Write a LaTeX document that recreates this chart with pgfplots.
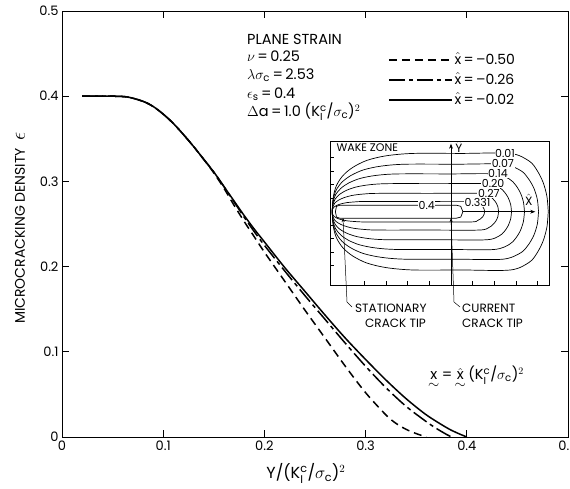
\documentclass[border=0pt]{standalone}
\usepackage{amsmath}
\usepackage{fontspec}
\setmainfont{Poppins}
\usepackage{pgfplots}
\usepackage{pgfplotstable}
\pgfplotsset{compat=1.18}
\usetikzlibrary{arrows.meta}

% main curves: microcracking density vs Y
\pgfplotstableread{
x y
0.020 0.400
0.050 0.400
0.065 0.399
0.080 0.394
0.090 0.388
0.100 0.379
0.110 0.368
0.120 0.355
0.130 0.341
0.140 0.326
0.150 0.310
0.160 0.292
0.170 0.272
0.180 0.253
0.190 0.235
0.200 0.217
0.220 0.183
0.240 0.149
0.260 0.116
0.280 0.083
0.300 0.052
0.320 0.026
0.330 0.016
0.340 0.009
0.350 0.004
0.360 0.000
}\xa
\pgfplotstableread{
x y
0.020 0.400
0.050 0.400
0.065 0.399
0.080 0.394
0.090 0.388
0.100 0.379
0.110 0.368
0.120 0.355
0.130 0.341
0.140 0.326
0.150 0.311
0.160 0.294
0.170 0.276
0.180 0.258
0.190 0.241
0.200 0.225
0.220 0.195
0.240 0.166
0.260 0.138
0.280 0.110
0.300 0.083
0.320 0.058
0.340 0.036
0.360 0.018
0.370 0.010
0.380 0.003
0.385 0.000
}\xb
\pgfplotstableread{
x y
0.020 0.400
0.050 0.400
0.065 0.399
0.080 0.394
0.090 0.388
0.100 0.379
0.110 0.368
0.120 0.355
0.130 0.341
0.140 0.326
0.150 0.311
0.160 0.294
0.170 0.277
0.180 0.260
0.190 0.244
0.200 0.229
0.220 0.199
0.240 0.171
0.260 0.143
0.280 0.116
0.300 0.091
0.320 0.067
0.340 0.045
0.360 0.026
0.380 0.011
0.390 0.005
0.400 0.000
}\xc

% inset contours, upper halves (mirrored below the crack line)
\pgfplotstableread{
x y
-1.100 0
-1.090 0.135
-1.060 0.243
-1.000 0.335
-0.910 0.410
-0.780 0.475
-0.600 0.518
-0.350 0.540
0.100 0.540
0.550 0.540
0.725 0.468
0.797 0.382
0.853 0.270
0.888 0.140
0.900 0
}\ca
\pgfplotstableread{
x y
-1.100 0
-1.091 0.110
-1.064 0.198
-1.010 0.273
-0.929 0.334
-0.812 0.387
-0.650 0.422
-0.425 0.440
0.050 0.440
0.480 0.440
0.645 0.381
0.713 0.311
0.766 0.220
0.799 0.114
0.810 0
}\cb
\pgfplotstableread{
x y
-1.100 0
-1.092 0.088
-1.068 0.158
-1.019 0.217
-0.947 0.266
-0.842 0.308
-0.697 0.336
-0.496 0.350
0.000 0.350
0.400 0.350
0.540 0.303
0.598 0.247
0.642 0.175
0.670 0.091
0.680 0
}\cc
\pgfplotstableread{
x y
-1.100 0
-1.093 0.065
-1.072 0.117
-1.031 0.161
-0.968 0.198
-0.878 0.229
-0.753 0.250
-0.580 0.260
-0.100 0.260
0.330 0.260
0.445 0.225
0.493 0.184
0.529 0.130
0.552 0.067
0.560 0
}\cd
\pgfplotstableread{
x y
-1.100 0
-1.094 0.043
-1.078 0.077
-1.044 0.105
-0.993 0.129
-0.920 0.150
-0.820 0.163
-0.680 0.170
-0.200 0.170
0.260 0.170
0.350 0.147
0.387 0.120
0.416 0.085
0.434 0.044
0.440 0
}\ce
\pgfplotstableread{
x y
-1.100 0
-1.096 0.024
-1.083 0.043
-1.058 0.059
-1.020 0.072
-0.966 0.084
-0.890 0.091
-0.785 0.095
-0.300 0.095
0.180 0.095
0.245 0.082
0.272 0.067
0.293 0.048
0.306 0.025
0.310 0
}\cf

\begin{document}
\begin{tikzpicture}[x=1pt,y=1pt]
\path[use as bounding box] (0,0) rectangle (570,488);

\begin{axis}[
    at={(62pt,51pt)}, anchor=south west,
    width=506pt, height=426pt, scale only axis,
    xmin=0, xmax=0.5, ymin=0, ymax=0.5,
    xtick={0,0.1,0.2,0.3,0.4,0.5},
    xticklabels={0,0.1,0.2,0.3,0.4,0.5},
    ytick={0,0.1,0.2,0.3,0.4,0.5},
    yticklabels={0,0.1,0.2,0.3,0.4,0.5},
    tick align=inside, major tick length=7pt,
    tick style={line width=0.8pt, black},
    axis line style={line width=0.8pt},
    ticklabel style={font=\fontsize{13}{15}\selectfont},
    xlabel={Y/(K$^{\text{c}}_{\mathrm{I}}$/$\sigma_{\text{c}}$)$^{2}$},
    ylabel={MICROCRACKING DENSITY\enspace{\fontsize{20}{20}\selectfont$\epsilon$}},
    xlabel style={at={(axis description cs:0.482,-0.086)}, anchor=center,
        font=\fontsize{16}{18}\selectfont},
    ylabel style={at={(axis description cs:-0.083,0.49)}, anchor=center,
        font=\fontsize{14}{16}\selectfont},
    legend style={at={(0.644,0.904)}, anchor=north west, draw=none, fill=none,
        inner sep=0pt, row sep=4pt, font=\fontsize{14}{16}\selectfont,
        nodes={inner ysep=1pt, text height=11pt, text depth=3pt}},
    legend cell align=left,
    legend image code/.code={\draw[#1] (0pt,0pt) -- (63pt,0pt);},
]
\addplot[black, line width=1.5pt, dash pattern=on 8pt off 5pt, smooth] table {\xa};
\addlegendentry{$\hat{\text{x}}$\,=\,–0.50}
\addplot[black, line width=1.5pt, dash pattern=on 16pt off 4pt on 4pt off 4pt, smooth] table {\xb};
\addlegendentry{$\hat{\text{x}}$\,=\,–0.26}
\addplot[black, line width=1.5pt, smooth] table {\xc};
\addlegendentry{$\hat{\text{x}}$\,=\,–0.02}
\end{axis}

% parameter block
\begin{scope}[every node/.style={anchor=west, inner sep=0pt, font=\fontsize{14.5}{16}\selectfont}]
\node at (247,449) {PLANE STRAIN};
\node at (247,432) {$\nu$\,=\,0.25};
\node at (247,413) {$\lambda\sigma_{\text{c}}$\,=\,2.53};
\node at (247,394) {$\epsilon_{\text{s}}$\,=\,0.4};
\node at (247,376) {$\Delta$a\,=\,1.0 (K$^{\text{c}}_{\mathrm{I}}$/$\sigma_{\text{c}}$)$^{2}$};
\node at (428,110) {$\underset{\textstyle\sim}{\text{x}}$\,=\,$\underset{\textstyle\sim}{\hat{\text{x}}}$\,(K$^{\text{c}}_{\mathrm{I}}$/$\sigma_{\text{c}}$)$^{2}$};
\end{scope}

% inset: wake zone contours
\begin{axis}[
    at={(330pt,203pt)}, anchor=south west,
    width=219pt, height=144pt, scale only axis,
    xmin=-1.12, xmax=0.907, ymin=-0.679, ymax=0.655,
    axis background/.style={fill=white},
    xtick={-0.8,-0.6,-0.4,-0.2,0.2,0.4,0.6,0.8}, xticklabels={},
    ytick={-0.5,-0.375,-0.25,-0.125,0.125,0.25,0.375,0.5}, yticklabels={},
    xtick pos=lower, ytick pos=left,
    tick align=inside, major tick length=4pt,
    tick style={line width=0.6pt, black},
    axis line style={line width=0.8pt},
]
\addplot[black, line width=0.7pt, smooth] table {\ca};
\addplot[black, line width=0.7pt, smooth] table[y expr=-\thisrowno{1}] {\ca};
\addplot[black, line width=0.7pt, smooth] table {\cb};
\addplot[black, line width=0.7pt, smooth] table[y expr=-\thisrowno{1}] {\cb};
\addplot[black, line width=0.7pt, smooth] table {\cc};
\addplot[black, line width=0.7pt, smooth] table[y expr=-\thisrowno{1}] {\cc};
\addplot[black, line width=0.7pt, smooth] table {\cd};
\addplot[black, line width=0.7pt, smooth] table[y expr=-\thisrowno{1}] {\cd};
\addplot[black, line width=0.7pt, smooth] table {\ce};
\addplot[black, line width=0.7pt, smooth] table[y expr=-\thisrowno{1}] {\ce};
\addplot[black, line width=0.7pt, smooth] table {\cf};
\addplot[black, line width=0.7pt, smooth] table[y expr=-\thisrowno{1}] {\cf};
\addplot[black, line width=0.7pt] coordinates {
  (-1.03,0.06) (0.05,0.06) (0.09,0.05) (0.11,0.0) (0.09,-0.05) (0.05,-0.06)
  (-1.03,-0.06) (-1.06,-0.05) (-1.07,0.0) (-1.06,0.05) (-1.03,0.06)};
\draw[line width=0.7pt, -{Stealth[length=5pt]}] (axis cs:0.11,0) -- (axis cs:0.78,0);
\draw[line width=0.7pt, -{Stealth[length=5pt]}] (axis cs:0,-0.679) -- (axis cs:0,0.63);
\node[font=\fontsize{11}{12}\selectfont, inner sep=0.6pt, fill=white] at (axis cs:0.50,0.54) {0.01};
\node[font=\fontsize{11}{12}\selectfont, inner sep=0.6pt, fill=white] at (axis cs:0.48,0.45) {0.07};
\node[font=\fontsize{11}{12}\selectfont, inner sep=0.6pt, fill=white] at (axis cs:0.435,0.358) {0.14};
\node[font=\fontsize{11}{12}\selectfont, inner sep=0.6pt, fill=white] at (axis cs:0.39,0.265) {0.20};
\node[font=\fontsize{11}{12}\selectfont, inner sep=0.6pt, fill=white] at (axis cs:0.35,0.173) {0.27};
\node[font=\fontsize{11}{12}\selectfont, inner sep=0.6pt, fill=white] at (axis cs:0.245,0.085) {0.331};
\node[font=\fontsize{11}{12}\selectfont, inner sep=0.6pt, fill=white] at (axis cs:-0.225,0.062) {0.4};
\node[anchor=north west, inner sep=1pt, font=\fontsize{11}{12}\selectfont] at (axis cs:-1.07,0.645) {WAKE ZONE};
\node[anchor=west, inner sep=1pt, font=\fontsize{12}{13}\selectfont] at (axis cs:0.03,0.60) {$\hat{\text{Y}}$};
\node[inner sep=1pt, font=\fontsize{12}{13}\selectfont] at (axis cs:0.72,0.11) {$\hat{\text{X}}$};
\end{axis}

% crack tip call-outs
\draw[line width=0.5pt, -{Stealth[length=4pt]}] (352,181) -- (347,186) -- (343,270);
\draw[line width=0.5pt, -{Stealth[length=4pt]}] (460,181) -- (454,186) -- (451,270);
\begin{scope}[every node/.style={anchor=west, inner sep=0pt, font=\fontsize{12}{13}\selectfont}]
\node at (355,180) {STATIONARY};
\node at (365,165) {CRACK TIP};
\node at (462,180) {CURRENT};
\node at (462,165) {CRACK TIP};
\end{scope}
\end{tikzpicture}
\end{document}
